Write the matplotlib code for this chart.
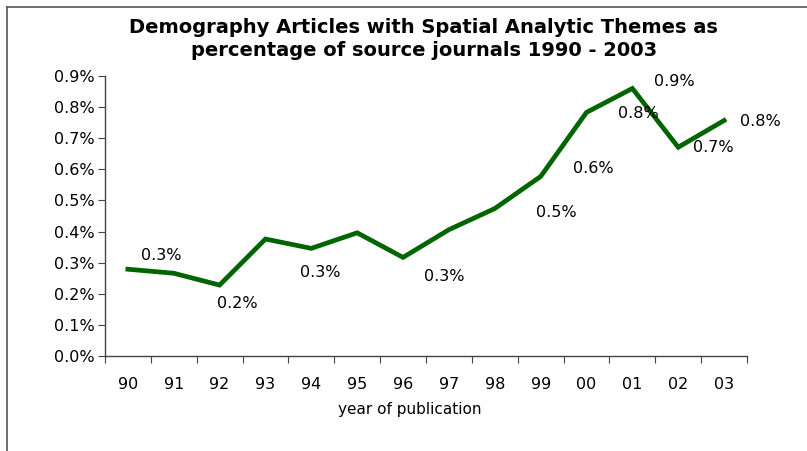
import matplotlib
matplotlib.use("Agg")
import matplotlib.pyplot as plt
from matplotlib.lines import Line2D
from matplotlib.ticker import FuncFormatter

plt.rcParams['font.family'] = ['DejaVu Sans']

# data (percent of source journals)
years = ['90', '91', '92', '93', '94', '95', '96', '97', '98', '99', '00', '01', '02', '03']
share = [0.279, 0.266, 0.228, 0.376, 0.346, 0.396, 0.317, 0.406, 0.474, 0.577, 0.783, 0.860, 0.671, 0.757]

# data labels as Excel drew them (text, category x, value y)
label_text = ['0.3%', '0.2%', '0.3%', '0.3%', '0.5%', '0.6%', '0.8%', '0.9%', '0.7%', '0.8%']
label_x = [0.72, 2.38, 4.19, 6.89, 9.35, 10.14, 11.12, 11.91, 12.76, 13.78]
label_y = [0.322, 0.170, 0.267, 0.254, 0.460, 0.604, 0.781, 0.881, 0.669, 0.755]

fig = plt.figure(figsize=(8.07, 4.51), dpi=100)
ax = fig.add_axes([0.130, 0.2106, 0.7957, 0.6209])

x = list(range(len(years)))
ax.plot(x, share, color='#006400', linewidth=3.4, solid_joinstyle='miter')

for t, lx, ly in zip(label_text, label_x, label_y):
    ax.text(lx, ly, t, ha='center', va='center', fontsize=11.5, color='black')

ax.set_xlim(-0.5, len(years) - 0.5)
ax.set_ylim(0, 0.9)
ax.set_yticks([i / 10 for i in range(10)])
ax.yaxis.set_major_formatter(FuncFormatter(lambda v, p: '%.1f%%' % v))

# ticks at category boundaries, labels in the middle
ax.set_xticks([i - 0.5 for i in range(len(years) + 1)])
ax.set_xticklabels([])
ax.set_xticks(x, minor=True)
ax.set_xticklabels(years, minor=True)
ax.tick_params(axis='x', which='major', direction='out', length=5, color='#444444')
ax.tick_params(axis='x', which='minor', length=0, pad=15, labelsize=11.5)
ax.tick_params(axis='y', direction='out', length=5, pad=2.5, color='#444444', labelsize=11.5)

for s in ['top', 'right']:
    ax.spines[s].set_visible(False)
for s in ['left', 'bottom']:
    ax.spines[s].set_color('#444444')
    ax.spines[s].set_linewidth(1)

ax.set_xlabel('year of publication', fontsize=11)
ax.xaxis.set_label_coords(0.475, -0.165)

fig.text(0.525, 0.914, 'Demography Articles with Spatial Analytic Themes as\npercentage of source journals 1990 - 2003',
         ha='center', va='center', fontsize=14, fontweight='bold', linespacing=1.25)

# outer frame (top and left edges visible in the original)
fig.add_artist(Line2D([0.0087, 1.0], [0.985, 0.985], color='#555555', linewidth=1.2))
fig.add_artist(Line2D([0.0087, 0.0087], [0.0, 0.985], color='#555555', linewidth=1.2))

fig.savefig('out.png', dpi=100)
